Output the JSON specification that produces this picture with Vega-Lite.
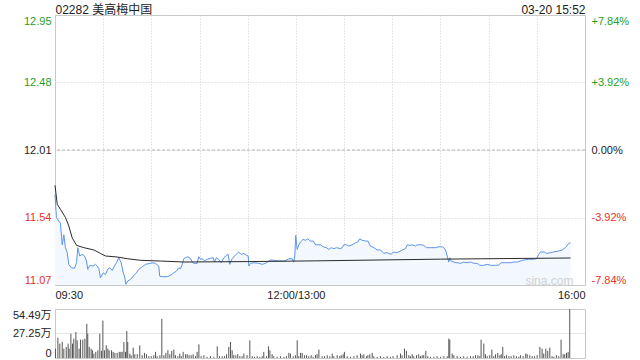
{
  "$schema": "https://vega.github.io/schema/vega-lite/v6.json",
  "padding": 0,
  "background": "white",
  "spacing": 7,
  "config": {
    "view": {"stroke": "#c8c8c8", "strokeWidth": 1},
    "axis": {"labelFont": "Liberation Sans, Noto Sans CJK SC", "labelFontSize": 11, "domain": false, "ticks": false, "tickSize": 0, "labelOverlap": false, "title": null, "gridColor": "#cccccc", "gridDash": [1, 2], "labelFlushOffset": 0}
  },
  "datasets": {
    "price": [
      {"t":0,"p":11.70},{"t":0.9,"p":11.54},{"t":2.4,"p":11.515},{"t":3.4,"p":11.50},{"t":4.5,"p":11.35},{"t":5.5,"p":11.42},{"t":6.5,"p":11.33},{"t":7.6,"p":11.295},{"t":8.6,"p":11.214},{"t":10.1,"p":11.19},{"t":12.1,"p":11.186},{"t":13.4,"p":11.225},{"t":14.2,"p":11.33},{"t":15.4,"p":11.272},{"t":16.9,"p":11.283},{"t":18.4,"p":11.272},{"t":19.6,"p":11.237},{"t":20.4,"p":11.179},{"t":21.7,"p":11.207},{"t":23.8,"p":11.202},{"t":25.2,"p":11.214},{"t":26.3,"p":11.202},{"t":27.3,"p":11.183},{"t":28.3,"p":11.12},{"t":30.0,"p":11.155},{"t":31.4,"p":11.144},{"t":32.9,"p":11.179},{"t":34.1,"p":11.19},{"t":35.6,"p":11.172},{"t":37.0,"p":11.202},{"t":38.3,"p":11.225},{"t":39.7,"p":11.26},{"t":41.2,"p":11.225},{"t":42.5,"p":11.155},{"t":43.3,"p":11.132},{"t":44.1,"p":11.075},{"t":45.3,"p":11.098},{"t":47.0,"p":11.109},{"t":48.7,"p":11.132},{"t":50.7,"p":11.155},{"t":52.2,"p":11.179},{"t":54.3,"p":11.197},{"t":56.3,"p":11.214},{"t":59.5,"p":11.221},{"t":61.5,"p":11.225},{"t":63.2,"p":11.214},{"t":64.6,"p":11.202},{"t":65.2,"p":11.132},{"t":66.7,"p":11.128},{"t":69.9,"p":11.128},{"t":71.9,"p":11.137},{"t":74.0,"p":11.155},{"t":75.6,"p":11.167},{"t":77.1,"p":11.19},{"t":78.1,"p":11.183},{"t":79.2,"p":11.214},{"t":80.2,"p":11.253},{"t":81.2,"p":11.26},{"t":82.7,"p":11.267},{"t":84.4,"p":11.253},{"t":85.4,"p":11.23},{"t":86.4,"p":11.221},{"t":88.5,"p":11.221},{"t":89.5,"p":11.267},{"t":90.6,"p":11.249},{"t":91.6,"p":11.253},{"t":93.1,"p":11.239},{"t":94.8,"p":11.249},{"t":96.8,"p":11.256},{"t":98.5,"p":11.26},{"t":99.3,"p":11.23},{"t":100.5,"p":11.26},{"t":102.0,"p":11.249},{"t":103.5,"p":11.225},{"t":105.1,"p":11.26},{"t":106.8,"p":11.277},{"t":107.8,"p":11.283},{"t":108.8,"p":11.214},{"t":110.3,"p":11.253},{"t":111.8,"p":11.272},{"t":113.4,"p":11.29},{"t":114.4,"p":11.30},{"t":115.9,"p":11.283},{"t":117.5,"p":11.29},{"t":119.2,"p":11.277},{"t":120.3,"p":11.272},{"t":120.7,"p":11.202},{"t":121.7,"p":11.221},{"t":123.8,"p":11.225},{"t":126.9,"p":11.221},{"t":129.0,"p":11.214},{"t":131.1,"p":11.221},{"t":133.1,"p":11.237},{"t":134.2,"p":11.244},{"t":136.2,"p":11.242},{"t":139.3,"p":11.237},{"t":140.4,"p":11.239},{"t":142.5,"p":11.235},{"t":144.1,"p":11.244},{"t":145.6,"p":11.253},{"t":147.7,"p":11.253},{"t":148.7,"p":11.23},{"t":149.3,"p":11.272},{"t":149.9,"p":11.416},{"t":150.8,"p":11.318},{"t":151.8,"p":11.35},{"t":152.8,"p":11.369},{"t":154.5,"p":11.388},{"t":156.0,"p":11.381},{"t":157.4,"p":11.392},{"t":159.1,"p":11.376},{"t":160.8,"p":11.376},{"t":162.2,"p":11.35},{"t":163.2,"p":11.35},{"t":165.3,"p":11.35},{"t":167.0,"p":11.336},{"t":169.0,"p":11.33},{"t":170.5,"p":11.318},{"t":172.0,"p":11.33},{"t":173.6,"p":11.323},{"t":175.3,"p":11.33},{"t":177.8,"p":11.323},{"t":178.8,"p":11.33},{"t":179.8,"p":11.35},{"t":181.5,"p":11.35},{"t":182.9,"p":11.341},{"t":185.0,"p":11.35},{"t":187.1,"p":11.364},{"t":188.5,"p":11.369},{"t":189.8,"p":11.392},{"t":191.3,"p":11.381},{"t":193.3,"p":11.376},{"t":194.8,"p":11.376},{"t":196.4,"p":11.341},{"t":198.5,"p":11.33},{"t":200.6,"p":11.314},{"t":202.7,"p":11.314},{"t":204.7,"p":11.29},{"t":206.4,"p":11.295},{"t":207.8,"p":11.29},{"t":209.3,"p":11.283},{"t":210.6,"p":11.30},{"t":212.0,"p":11.295},{"t":214.0,"p":11.30},{"t":216.2,"p":11.314},{"t":218.2,"p":11.323},{"t":219.3,"p":11.35},{"t":220.9,"p":11.346},{"t":222.4,"p":11.35},{"t":224.4,"p":11.341},{"t":225.5,"p":11.35},{"t":227.6,"p":11.35},{"t":229.6,"p":11.346},{"t":231.3,"p":11.33},{"t":233.8,"p":11.33},{"t":236.9,"p":11.33},{"t":238.9,"p":11.336},{"t":241.1,"p":11.336},{"t":242.1,"p":11.33},{"t":243.1,"p":11.314},{"t":244.2,"p":11.272},{"t":245.2,"p":11.23},{"t":245.8,"p":11.26},{"t":246.7,"p":11.237},{"t":247.9,"p":11.23},{"t":250.4,"p":11.225},{"t":252.5,"p":11.221},{"t":254.5,"p":11.23},{"t":256.6,"p":11.225},{"t":258.7,"p":11.23},{"t":260.8,"p":11.221},{"t":262.8,"p":11.221},{"t":264.5,"p":11.207},{"t":267.0,"p":11.207},{"t":269.1,"p":11.214},{"t":271.1,"p":11.207},{"t":274.3,"p":11.207},{"t":276.3,"p":11.209},{"t":277.8,"p":11.225},{"t":280.5,"p":11.225},{"t":283.6,"p":11.225},{"t":285.7,"p":11.23},{"t":288.1,"p":11.23},{"t":289.8,"p":11.237},{"t":291.9,"p":11.244},{"t":295.0,"p":11.249},{"t":297.7,"p":11.249},{"t":299.8,"p":11.253},{"t":301.2,"p":11.283},{"t":302.3,"p":11.30},{"t":304.8,"p":11.30},{"t":306.0,"p":11.29},{"t":308.5,"p":11.295},{"t":310.6,"p":11.30},{"t":313.7,"p":11.307},{"t":315.8,"p":11.314},{"t":317.8,"p":11.33},{"t":319.9,"p":11.36},{"t":321.0,"p":11.364}
    ],
    "avg": [
      {"t":0,"a":11.764},{"t":1.4,"a":11.632},{"t":3.4,"a":11.597},{"t":6.5,"a":11.54},{"t":8.6,"a":11.481},{"t":10.7,"a":11.399},{"t":13.4,"a":11.346},{"t":18.0,"a":11.33},{"t":24.2,"a":11.314},{"t":28.3,"a":11.29},{"t":31.4,"a":11.272},{"t":38.7,"a":11.265},{"t":45.0,"a":11.253},{"t":53.3,"a":11.242},{"t":65.7,"a":11.237},{"t":80.2,"a":11.23},{"t":120,"a":11.233},{"t":162,"a":11.238},{"t":240,"a":11.25},{"t":321,"a":11.258}
    ],
    "ref": [{"ref": 12.01}],
    "mark": [{"t": 322.8, "p": 11.098, "label": "sina.com"}],
    "vol": [
      {"t":0.3,"v":10.4},{"t":1.8,"v":22.6},{"t":3.0,"v":16.0},{"t":4.5,"v":17.8},{"t":5.5,"v":10.4},{"t":7.0,"v":12.3},{"t":8.2,"v":16.0},{"t":8.8,"v":10.4},{"t":9.9,"v":27.0},{"t":10.9,"v":16.0},{"t":11.7,"v":21.5},{"t":13.0,"v":28.8},{"t":13.8,"v":19.6},{"t":15.0,"v":10.4},{"t":15.9,"v":20.4},{"t":17.3,"v":20.4},{"t":18.6,"v":21.5},{"t":19.8,"v":38.0},{"t":20.4,"v":27.0},{"t":21.3,"v":12.3},{"t":22.5,"v":10.4},{"t":23.3,"v":8.6},{"t":24.2,"v":4.9},{"t":25.4,"v":6.8},{"t":26.7,"v":8.6},{"t":27.9,"v":27.0},{"t":28.9,"v":7.9},{"t":29.8,"v":41.6},{"t":30.8,"v":8.6},{"t":31.9,"v":14.1},{"t":32.9,"v":10.4},{"t":33.7,"v":8.6},{"t":35.2,"v":8.6},{"t":36.2,"v":6.8},{"t":37.3,"v":5.7},{"t":38.7,"v":5.7},{"t":40.0,"v":6.8},{"t":41.0,"v":6.8},{"t":41.8,"v":6.8},{"t":42.9,"v":17.8},{"t":43.9,"v":6.8},{"t":44.7,"v":29.9},{"t":45.3,"v":17.8},{"t":46.6,"v":4.9},{"t":47.4,"v":3.1},{"t":48.7,"v":11.5},{"t":49.7,"v":4.2},{"t":51.2,"v":4.2},{"t":52.8,"v":14.1},{"t":54.3,"v":3.1},{"t":55.7,"v":5.7},{"t":57.0,"v":4.2},{"t":58.4,"v":2.0},{"t":59.9,"v":2.0},{"t":61.5,"v":3.1},{"t":62.6,"v":6.8},{"t":63.6,"v":2.0},{"t":65.3,"v":3.1},{"t":66.5,"v":43.5},{"t":67.8,"v":3.1},{"t":69.0,"v":5.7},{"t":70.3,"v":8.6},{"t":71.5,"v":4.2},{"t":72.7,"v":7.9},{"t":74.0,"v":9.4},{"t":75.0,"v":3.1},{"t":76.5,"v":2.0},{"t":77.7,"v":4.9},{"t":78.6,"v":2.0},{"t":79.8,"v":6.8},{"t":81.3,"v":4.2},{"t":82.3,"v":4.2},{"t":83.5,"v":3.1},{"t":84.8,"v":3.1},{"t":86.0,"v":4.2},{"t":87.5,"v":2.0},{"t":88.5,"v":6.8},{"t":89.6,"v":15.2},{"t":91.0,"v":2.0},{"t":92.7,"v":3.1},{"t":94.7,"v":1.3},{"t":96.8,"v":2.0},{"t":98.9,"v":1.3},{"t":101.0,"v":13.0},{"t":102.4,"v":2.0},{"t":104.1,"v":2.0},{"t":105.5,"v":2.0},{"t":106.8,"v":4.2},{"t":108.2,"v":12.3},{"t":109.3,"v":17.8},{"t":110.3,"v":8.6},{"t":111.3,"v":3.1},{"t":112.6,"v":3.1},{"t":113.8,"v":4.2},{"t":115.1,"v":2.0},{"t":116.5,"v":2.0},{"t":117.6,"v":4.9},{"t":119.6,"v":3.1},{"t":121.3,"v":19.6},{"t":122.8,"v":2.0},{"t":124.2,"v":1.3},{"t":125.9,"v":2.0},{"t":127.5,"v":1.3},{"t":129.0,"v":2.0},{"t":130.0,"v":6.8},{"t":131.7,"v":2.0},{"t":132.9,"v":13.0},{"t":133.8,"v":8.6},{"t":135.2,"v":4.2},{"t":136.2,"v":2.0},{"t":138.3,"v":1.3},{"t":140.4,"v":2.0},{"t":142.5,"v":1.3},{"t":144.1,"v":2.0},{"t":145.6,"v":5.7},{"t":146.6,"v":4.9},{"t":148.3,"v":2.0},{"t":149.7,"v":3.1},{"t":150.8,"v":19.6},{"t":151.8,"v":2.0},{"t":152.9,"v":5.7},{"t":153.9,"v":5.7},{"t":155.3,"v":3.1},{"t":156.6,"v":3.1},{"t":158.0,"v":2.0},{"t":159.5,"v":3.1},{"t":160.7,"v":1.3},{"t":162.2,"v":3.1},{"t":163.2,"v":4.2},{"t":164.3,"v":9.4},{"t":166.3,"v":2.0},{"t":167.8,"v":2.0},{"t":169.5,"v":3.1},{"t":171.1,"v":2.0},{"t":172.6,"v":4.9},{"t":173.6,"v":2.0},{"t":175.7,"v":3.1},{"t":177.3,"v":2.0},{"t":178.2,"v":3.1},{"t":179.4,"v":4.2},{"t":180.2,"v":6.8},{"t":181.9,"v":2.0},{"t":184.0,"v":1.3},{"t":186.1,"v":2.0},{"t":188.1,"v":3.1},{"t":190.2,"v":4.9},{"t":191.2,"v":3.1},{"t":192.3,"v":4.2},{"t":193.9,"v":2.0},{"t":194.8,"v":3.1},{"t":196.0,"v":4.2},{"t":197.5,"v":5.7},{"t":198.5,"v":2.0},{"t":200.6,"v":1.3},{"t":202.7,"v":2.0},{"t":204.7,"v":1.3},{"t":206.8,"v":2.0},{"t":208.9,"v":1.3},{"t":210.5,"v":2.0},{"t":213.0,"v":3.1},{"t":215.1,"v":4.9},{"t":216.1,"v":3.1},{"t":217.6,"v":10.4},{"t":218.8,"v":7.9},{"t":220.3,"v":3.1},{"t":221.3,"v":2.0},{"t":222.4,"v":4.2},{"t":223.4,"v":2.0},{"t":225.1,"v":3.1},{"t":226.5,"v":4.2},{"t":227.6,"v":2.0},{"t":228.6,"v":3.1},{"t":229.6,"v":3.1},{"t":230.9,"v":7.9},{"t":232.1,"v":2.0},{"t":233.8,"v":1.3},{"t":235.9,"v":1.3},{"t":237.9,"v":2.0},{"t":240.0,"v":1.3},{"t":242.1,"v":2.0},{"t":244.2,"v":2.0},{"t":245.2,"v":21.5},{"t":245.8,"v":20.4},{"t":247.3,"v":4.9},{"t":248.3,"v":3.1},{"t":250.4,"v":2.0},{"t":252.5,"v":1.3},{"t":254.5,"v":2.0},{"t":256.6,"v":1.3},{"t":258.7,"v":2.0},{"t":260.4,"v":2.0},{"t":261.8,"v":3.1},{"t":263.3,"v":3.1},{"t":264.5,"v":2.0},{"t":265.3,"v":20.4},{"t":267.0,"v":16.0},{"t":268.0,"v":4.2},{"t":269.1,"v":2.0},{"t":270.7,"v":3.1},{"t":272.0,"v":9.4},{"t":273.2,"v":2.0},{"t":274.3,"v":4.2},{"t":275.7,"v":5.7},{"t":277.0,"v":3.1},{"t":277.8,"v":4.2},{"t":278.8,"v":12.3},{"t":279.9,"v":2.0},{"t":281.1,"v":3.1},{"t":282.6,"v":2.0},{"t":284.0,"v":2.0},{"t":285.7,"v":3.1},{"t":287.3,"v":2.0},{"t":288.8,"v":1.3},{"t":289.8,"v":3.1},{"t":291.5,"v":2.0},{"t":293.1,"v":4.9},{"t":294.0,"v":4.2},{"t":295.6,"v":3.1},{"t":297.1,"v":2.0},{"t":298.5,"v":2.0},{"t":300.2,"v":3.1},{"t":301.9,"v":12.3},{"t":303.3,"v":10.4},{"t":304.3,"v":4.9},{"t":305.6,"v":10.4},{"t":306.8,"v":7.9},{"t":308.1,"v":11.5},{"t":309.5,"v":2.0},{"t":310.6,"v":1.3},{"t":312.2,"v":3.1},{"t":313.7,"v":2.0},{"t":315.1,"v":20.4},{"t":316.4,"v":4.2},{"t":317.4,"v":4.2},{"t":318.5,"v":5.7},{"t":319.5,"v":6.8},{"t":320.5,"v":54.49}
    ]
  },
  "vconcat": [
    {
      "width": 530,
      "height": 270,
      "resolve": {"scale": {"x": "shared", "y": "shared"}, "axis": {"x": "independent", "y": "independent"}},
      "layer": [
        {
          "data": {"name": "price"},
          "mark": {"type": "area", "color": "#f3f7fe"},
          "encoding": {
            "x": {"field": "t", "type": "quantitative", "scale": {"domain": [0, 330], "nice": false, "zero": false},
              "axis": {"orient": "bottom", "values": [0, 30, 60, 90, 120, 150, 180, 210, 240, 270, 300, 330], "grid": true, "labelFlush": true, "labelPadding": 4, "labelBaseline": "top", "labelColor": "#222222", "minExtent": 14, "maxExtent": 14,
                "labelExpr": "datum.value == 0 ? '09:30' : (datum.value == 150 ? '12:00/13:00' : (datum.value == 330 ? '16:00' : ''))"}},
            "y": {"field": "p", "type": "quantitative", "scale": {"domain": [11.07, 12.95], "nice": false, "zero": false},
              "axis": {"orient": "left", "values": [11.07, 11.54, 12.01, 12.48, 12.95], "grid": true, "labelFlush": true, "labelPadding": 4, "minExtent": 54, "format": ".2f",
                "labelColor": {"condition": [{"test": "datum.value > 12.02", "value": "#1f9f1f"}, {"test": "datum.value < 12.0", "value": "#e8322a"}], "value": "#222222"}}},
            "y2": {"datum": 11.07}
          }
        },
        {
          "data": {"name": "ref"},
          "mark": {"type": "rule", "color": "#b4b4b4", "strokeDash": [3, 2], "strokeWidth": 1},
          "encoding": {
            "y": {"field": "ref", "type": "quantitative", "scale": {"domain": [11.07, 12.95], "nice": false, "zero": false}, "axis": null}
          }
        },
        {
          "data": {"name": "price"},
          "mark": {"type": "line", "color": "#5b93ea", "strokeWidth": 1},
          "encoding": {
            "x": {"field": "t", "type": "quantitative", "scale": {"domain": [0, 330], "nice": false, "zero": false}, "axis": null},
            "y": {"field": "p", "type": "quantitative", "scale": {"domain": [11.07, 12.95], "nice": false, "zero": false}, "axis": null}
          }
        },
        {
          "data": {"name": "avg"},
          "mark": {"type": "line", "color": "#2a2a2a", "strokeWidth": 1},
          "encoding": {
            "x": {"field": "t", "type": "quantitative", "scale": {"domain": [0, 330], "nice": false, "zero": false}, "axis": null},
            "y": {"field": "a", "type": "quantitative", "scale": {"domain": [11.07, 12.95], "nice": false, "zero": false}, "axis": null}
          }
        },
        {
          "data": {"name": "mark"},
          "mark": {"type": "text", "align": "right", "baseline": "middle", "color": "#d2d2d2", "fontSize": 12, "font": "Liberation Sans"},
          "encoding": {
            "text": {"field": "label"},
            "x": {"field": "t", "type": "quantitative", "scale": {"domain": [0, 330], "nice": false, "zero": false},
              "axis": {"orient": "top", "values": [0, 330], "grid": false, "labelFlush": true, "labelPadding": 2, "labelBaseline": "alphabetic", "labelFontSize": 12, "labelColor": "#222222", "minExtent": 14,
                "labelExpr": "datum.value == 0 ? '02282 美高梅中国' : '03-20 15:52'"}},
            "y": {"field": "p", "type": "quantitative", "scale": {"domain": [11.07, 12.95], "nice": false, "zero": false},
              "axis": {"orient": "right", "values": [11.07, 11.54, 12.01, 12.48, 12.95], "grid": false, "labelFlush": true, "labelPadding": 6,
                "labelExpr": "datum.value > 12.7 ? '+7.84%' : (datum.value > 12.3 ? '+3.92%' : (datum.value > 11.9 ? '0.00%' : (datum.value > 11.3 ? '-3.92%' : '-7.84%')))",
                "labelColor": {"condition": [{"test": "datum.value > 12.02", "value": "#1f9f1f"}, {"test": "datum.value < 12.0", "value": "#e8322a"}], "value": "#222222"}}}
          }
        }
      ]
    },
    {
      "width": 530,
      "height": 49,
      "data": {"name": "vol"},
      "mark": {"type": "rule", "color": "#555555", "strokeWidth": 1},
      "encoding": {
        "x": {"field": "t", "type": "quantitative", "scale": {"domain": [0, 330], "nice": false, "zero": false}, "axis": null},
        "y": {"field": "v", "type": "quantitative", "scale": {"domain": [0, 54.49], "nice": false},
          "axis": {"orient": "left", "values": [0, 27.25, 54.49], "grid": true, "gridDash": [1, 1], "labelFlush": true, "labelPadding": 4, "minExtent": 54, "labelColor": "#222222",
            "labelExpr": "datum.value == 0 ? '0' : format(datum.value, '.2f') + '万'"}},
        "y2": {"datum": 0}
      }
    }
  ]
}
